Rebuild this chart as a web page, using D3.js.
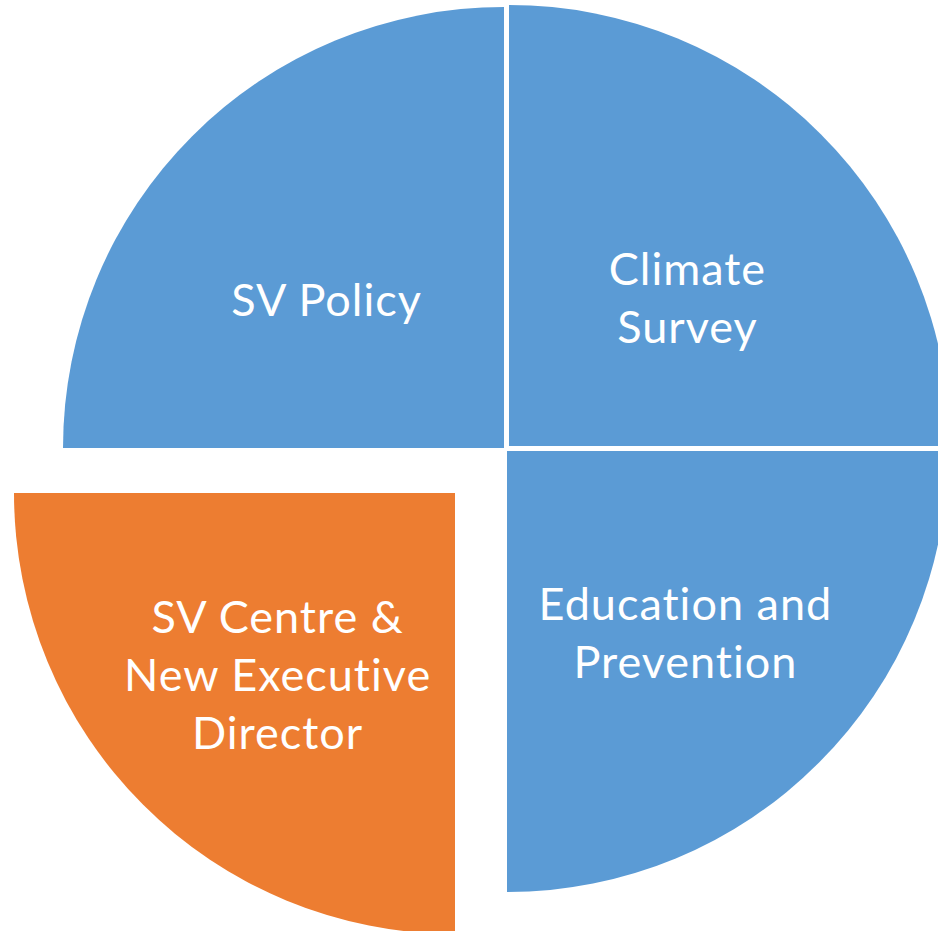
<!DOCTYPE html>
<html>
<head>
<meta charset="utf-8">
<script src="https://cdn.jsdelivr.net/npm/d3@7"></script>
<style>
  html, body { margin: 0; padding: 0; background: #fff; overflow: hidden; }
  svg { display: block; }
</style>
</head>
<body>
<div id="chart"></div>
<script>
// Four equal pillars, one pulled out of the pie
const categories = ['Climate Survey', 'Education and Prevention', 'SV Centre & New Executive Director', 'SV Policy'];
const values = [1, 1, 1, 1];
const labelLines = [
  ['Climate', 'Survey'],
  ['Education and', 'Prevention'],
  ['SV Centre &', 'New Executive', 'Director'],
  ['SV Policy']
];

(function () {
  const W = 938, H = 931;
  const cx = 506.5, cy = 448.5, R = 441;

  const BLUE = '#5b9bd5', ORANGE = '#ed7d31';
  const color = d3.scaleOrdinal()
    .domain(categories)
    .range([BLUE, BLUE, ORANGE, BLUE]);

  // per-slice nudge (px), orange one exploded
  const EXPLODE = {
    'Climate Survey': [2.5, -2.5],
    'Education and Prevention': [0.5, 2.5],
    'SV Centre & New Executive Director': [-51.5, 44.5],
    'SV Policy': [-2.5, -0.5]
  };

  const data = categories.map((c, i) => ({ name: c, value: values[i], lines: labelLines[i] }));

  const svg = d3.select('#chart')
    .append('svg')
    .attr('width', W)
    .attr('height', H)
    .attr('viewBox', `0 0 ${W} ${H}`);

  svg.append('rect').attr('width', W).attr('height', H).attr('fill', '#fff');

  const g = svg.append('g').attr('transform', `translate(${cx},${cy})`);

  const pie = d3.pie().sort(null).value(d => d.value);
  const arc = d3.arc().innerRadius(0).outerRadius(R);
  const labelArc = d3.arc().innerRadius(0).outerRadius(466);

  const slices = g.selectAll('.slice')
    .data(pie(data))
    .enter()
    .append('g')
    .attr('class', 'slice')
    .attr('transform', d => `translate(${EXPLODE[d.data.name][0]},${EXPLODE[d.data.name][1]})`);

  slices.append('path')
    .attr('d', arc)
    .attr('fill', d => color(d.data.name));

  // Labels: centred text block, Calibri-ish stand-in
  const fontSize = 45, lineH = 58, capHalf = 16;
  slices.append('text')
    .attr('text-anchor', 'middle')
    .style('font-family', 'Lato, "Open Sans", sans-serif')
    .style('font-size', fontSize + 'px')
    .style('letter-spacing', '1px')
    .style('font-variant-ligatures', 'none')
    .style('fill', '#fff')
    .each(function (d) {
      const [lx, ly] = labelArc.centroid(d);
      const x = lx * 1.08 + 0.5, y = ly + 17;
      const n = d.data.lines.length;
      d3.select(this).selectAll('tspan')
        .data(d.data.lines)
        .enter()
        .append('tspan')
        .attr('x', x)
        .attr('y', (t, i) => y + capHalf + (i - (n - 1) / 2) * lineH)
        .text(t => t);
    });
})();
</script>
</body>
</html>
